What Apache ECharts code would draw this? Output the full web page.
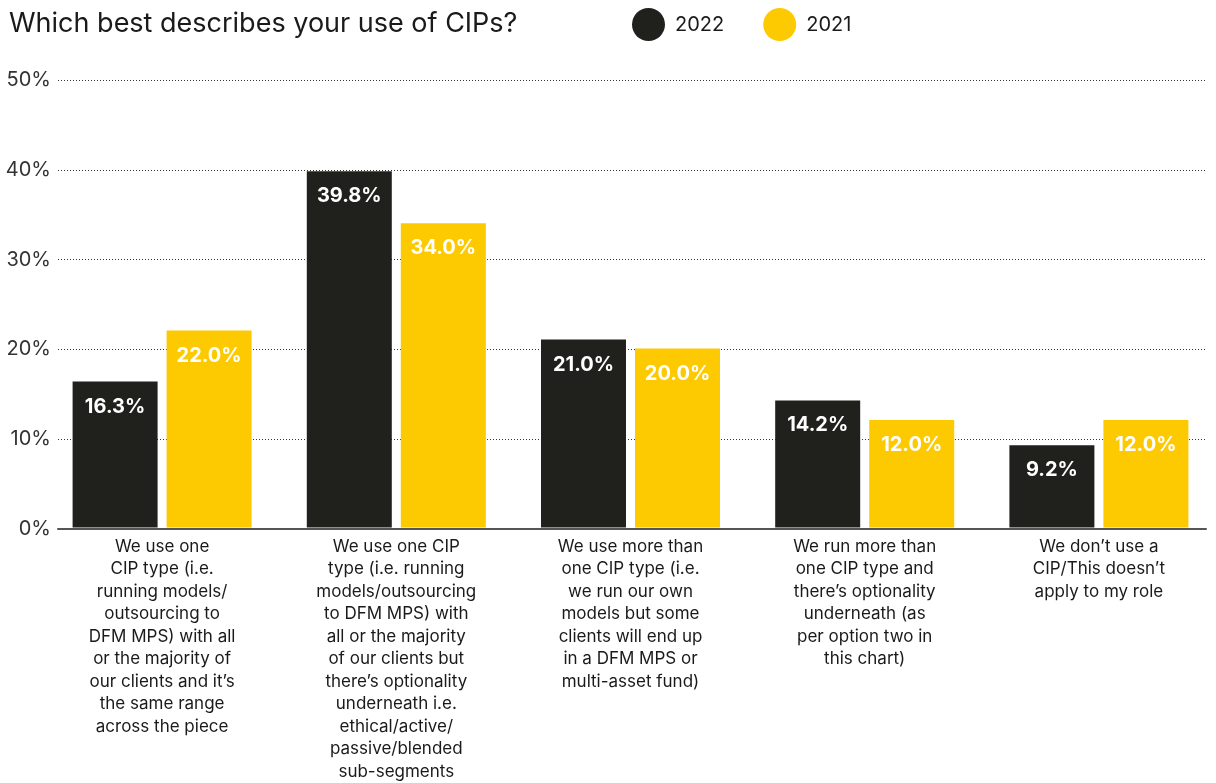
<!DOCTYPE html>
<html><head><meta charset="utf-8">
<script src="https://cdn.jsdelivr.net/npm/echarts@6/dist/echarts.min.js"></script>
<style>html,body{margin:0;padding:0;background:#fff}#c{width:1216px;height:783px}</style>
</head><body><div id="c"></div>
<script>
const categories = [
  "We use one\nCIP type (i.e.\nrunning models/\noutsourcing to\nDFM MPS) with all\nor the majority of\nour clients and it’s\nthe same range\nacross the piece",
  "We use one CIP\ntype (i.e. running\nmodels/outsourcing\nto DFM MPS) with\nall or the majority\nof our clients but\nthere’s optionality\nunderneath i.e.\nethical/active/\npassive/blended\nsub-segments",
  "We use more than\none CIP type (i.e.\nwe run our own\nmodels but some\nclients will end up\nin a DFM MPS or\nmulti-asset fund)",
  "We run more than\none CIP type and\nthere’s optionality\nunderneath (as\nper option two in\nthis chart)",
  "We don’t use a\nCIP/This doesn’t\napply to my role"
];
const values2022 = [16.3, 39.8, 21.0, 14.2, 9.2];
const values2021 = [22.0, 34.0, 20.0, 12.0, 12.0];
const yTicks = [0, 10, 20, 30, 40, 50];

const FONT = "Inter, 'Noto Sans', sans-serif";
const chart = echarts.init(document.getElementById('c'));
const labelCfg = {
  show: true, position: 'insideTop', distance: 15,
  color: '#fff', fontWeight: 'bold', fontSize: 20, fontFamily: FONT,
  formatter: p => p.value.toFixed(1) + '%'
};
chart.setOption({
  animation: false,
  textStyle: {fontFamily: FONT},
  title: {text: 'Which best describes your use of CIPs?', left: 4, top: 5,
    textStyle: {fontSize: 27, fontWeight: 'normal', color: '#1a1a1a', fontFamily: FONT}},
  legend: {left: 627, top: 3, itemWidth: 33, itemHeight: 33, itemGap: 39, icon: 'circle',
    textStyle: {fontSize: 20, color: '#1a1a1a', fontFamily: FONT, padding: [0, 0, 0, 5]},
    data: ['2022', '2021']},
  grid: [
    {left: 58, right: 10, top: 80, bottom: 254},
    {left: 45, width: 1180, top: 80, bottom: 254}
  ],
  xAxis: [
    {type: 'category', gridIndex: 0, data: categories,
      axisLine: {lineStyle: {color: '#555', width: 2}, z: 5},
      axisTick: {show: false}, axisLabel: {show: false}},
    {type: 'category', gridIndex: 1, data: categories,
      axisLine: {show: false}, axisTick: {show: false},
      axisLabel: {interval: 0, fontSize: 17, lineHeight: 22.5, color: '#1a1a1a', margin: 8, fontFamily: FONT}}
  ],
  yAxis: [
    {type: 'value', gridIndex: 0, min: 0, max: 50, interval: 10,
      axisLabel: {formatter: v => yTicks.includes(v) ? v + '%' : '', fontSize: 20, color: '#333', margin: 7, fontFamily: FONT},
      splitLine: {lineStyle: {type: [1, 2], color: '#333', width: 1}},
      axisLine: {show: false}, axisTick: {show: false}},
    {type: 'value', gridIndex: 1, min: 0, max: 50, interval: 10,
      axisLabel: {show: false}, splitLine: {show: false},
      axisLine: {show: false}, axisTick: {show: false}}
  ],
  series: [
    {name: '2022', type: 'bar', xAxisIndex: 1, yAxisIndex: 1, data: values2022,
      itemStyle: {color: '#20201c'}, barWidth: 85, barGap: '10.6%', label: labelCfg},
    {name: '2021', type: 'bar', xAxisIndex: 1, yAxisIndex: 1, data: values2021,
      itemStyle: {color: '#fdc900'}, barWidth: 85, label: labelCfg}
  ]
});
</script></body></html>
